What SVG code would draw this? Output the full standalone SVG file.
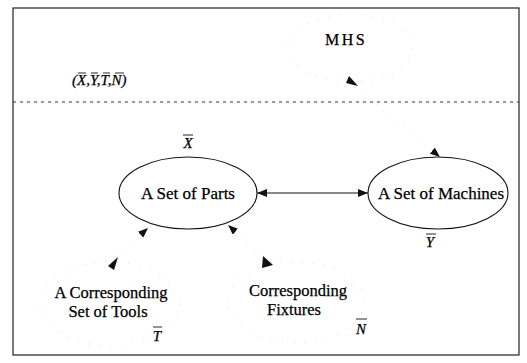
<svg xmlns="http://www.w3.org/2000/svg" width="527" height="363" viewBox="0 0 527 363">
<style>
text{font-family:"Liberation Serif","Times New Roman",serif;fill:#000;stroke:#000;stroke-width:0.25}
.lbl{font-size:16.5px;text-anchor:middle}
.node{font-size:17px;text-anchor:middle}
.it{font-style:italic;font-size:15px;text-anchor:middle}
.ell{fill:none;stroke:#111;stroke-width:1.1}
.faint{fill:none;stroke:#dedede;stroke-width:1;stroke-dasharray:1 10}
.conn{fill:none;stroke:#111;stroke-width:1}
.fconn{fill:none;stroke:#e2e2e2;stroke-width:1;stroke-dasharray:1 8}
.bar{stroke:#111;stroke-width:0.9}
</style>
<defs>
<marker id="ah" viewBox="0 0 10 8" refX="10" refY="4" markerWidth="10" markerHeight="8" markerUnits="userSpaceOnUse" orient="auto">
<path d="M0,0 L10,4 L0,8 z" fill="#111"/>
</marker>
<marker id="ahs" viewBox="0 0 10 8" refX="10" refY="4" markerWidth="10" markerHeight="8" markerUnits="userSpaceOnUse" orient="auto-start-reverse">
<path d="M0,0 L10,4 L0,8 z" fill="#111"/>
</marker>
</defs>
<rect x="13" y="8" width="506" height="347" fill="none" stroke="#222" stroke-width="1.2"/>
<line x1="13" y1="102" x2="519" y2="102" stroke="#333" stroke-width="1" stroke-dasharray="3 4"/>

<g id="mhs">
<ellipse class="faint" cx="350" cy="48" rx="62" ry="34"/>
<text x="346" y="45" font-size="16" letter-spacing="2.5" text-anchor="middle">MHS</text>
</g>
<g id="tuple">
<text x="72" y="85" font-size="15" font-style="italic">(X,Y,T,N)</text>
<line class="bar" x1="78" y1="73" x2="86" y2="73"/>
<line class="bar" x1="91" y1="73" x2="98" y2="73"/>
<line class="bar" x1="103" y1="73" x2="110" y2="73"/>
<line class="bar" x1="115" y1="73" x2="124" y2="73"/>
</g>

<g id="parts">
<ellipse class="ell" cx="188" cy="193" rx="69" ry="36"/>
<text class="node" x="188" y="199">A Set of Parts</text>
<text class="it" x="188" y="148">X</text>
<line class="bar" x1="183" y1="135" x2="193" y2="135"/>
</g>
<g id="machines">
<ellipse class="ell" cx="438" cy="193" rx="70" ry="36"/>
<text class="node" x="441" y="199">A Set of Machines</text>
<text class="it" x="430" y="247">Y</text>
<line class="bar" x1="426" y1="234" x2="436" y2="234"/>
</g>
<g id="tools">
<ellipse class="faint" cx="110" cy="304" rx="70" ry="42"/>
<text class="lbl" x="111" y="298">A Corresponding</text>
<text class="lbl" x="108" y="317">Set of Tools</text>
<text class="it" x="157" y="341">T</text>
<line class="bar" x1="153" y1="327" x2="162" y2="327"/>
</g>
<g id="fixtures">
<ellipse class="faint" cx="296" cy="302" rx="68" ry="40"/>
<text class="lbl" x="298" y="296">Corresponding</text>
<text class="lbl" x="294" y="315">Fixtures</text>
<text class="it" x="361" y="334">N</text>
<line class="bar" x1="356" y1="319" x2="367" y2="319"/>
</g>

<g id="connectors">
<line class="conn" x1="257" y1="193" x2="368" y2="193" marker-start="url(#ahs)" marker-end="url(#ah)"/>
<line class="fconn" x1="341" y1="76" x2="440" y2="157" marker-end="url(#ah)"/>
<line class="fconn" x1="104" y1="268" x2="148" y2="228" marker-end="url(#ah)"/>
<line class="fconn" x1="275" y1="267" x2="228" y2="225" marker-end="url(#ah)"/>
</g>
<g id="extra-heads">
<path d="M349,76 L358,86 L346,83 z" fill="#111"/>
<path d="M108,266 L118,257 L114,270 z" fill="#111"/>
<path d="M263,256 L273,265 L262,268 z" fill="#111"/>
</g>
</svg>
